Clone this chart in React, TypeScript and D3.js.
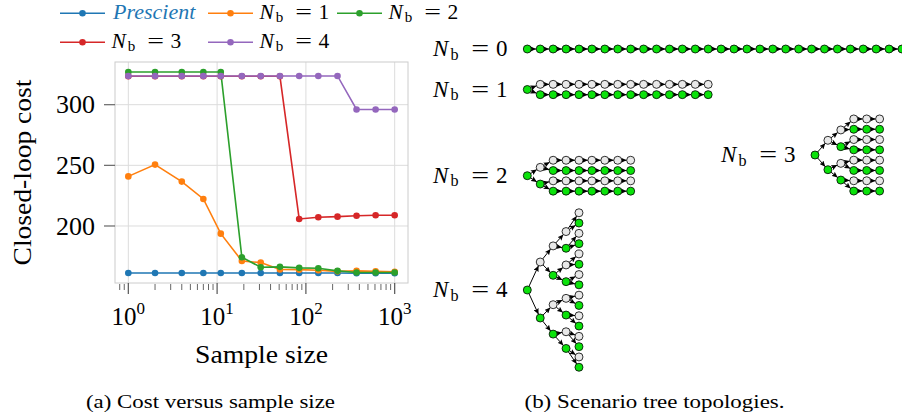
import React from 'react';
import * as d3 from 'd3';

// ---------- data ----------
const sampleSizes = [1, 2, 4, 7, 11, 19, 31, 51, 84, 138, 227, 372, 610, 1000];
const prescientCost = [161.3, 161.3, 161.3, 161.3, 161.3, 161.3, 161.3, 161.3, 161.2, 161.2, 161.2, 161.1, 161.1, 161.1];
const nb1Cost = [240.9, 250.6, 236.6, 222.3, 193.7, 171.2, 169.8, 164.1, 164.0, 163.5, 162.6, 163.0, 162.6, 162.2];
const nb2Cost = [326.9, 326.9, 326.9, 326.9, 326.9, 174.2, 166.0, 166.3, 165.5, 165.2, 163.0, 161.6, 161.6, 161.6];
const nb3Cost = [323.4, 323.4, 323.4, 323.4, 323.4, 323.4, 323.4, 323.4, 205.8, 207.2, 207.7, 208.5, 208.8, 208.8];
const nb4Cost = [323.7, 323.7, 323.7, 323.7, 323.7, 323.7, 323.7, 323.7, 323.7, 323.7, 323.7, 296.1, 296.1, 296.1];

const seriesLabels = ['Prescient', '1', '2', '3', '4'];
const seriesColors = ['#1f77b4', '#ff7f0e', '#2ca02c', '#d62728', '#9467bd'];
const seriesValues = [prescientCost, nb1Cost, nb2Cost, nb3Cost, nb4Cost];

const yTicks = [200, 250, 300];
const xTickExponents = [0, 1, 2, 3];

const treeBranchings = [0, 1, 2, 3, 4];
const treeStages = [31, 15, 9, 6, 5];

// ---------- layout ----------
const SERIF = "'Liberation Serif', 'Times New Roman', serif";
const GREEN = '#0be20b';
const WHITE = '#e8e8e8';
const stageGap = 12.92;
const levelGap = [10.3, 16.7, 29.4, 56]; // from leaves upward
const nodeR = 4;
const treeRoots: [number, number][] = [[527.3, 49], [527.3, 89.5], [527.3, 175.7], [815, 155], [527.3, 290]];
const treeLabelX = [433, 433, 433, 721, 433];

type TNode = { x: number; y: number; green: boolean };

function buildTree(nb: number, stages: number, rx: number, ry: number) {
  const nodes: TNode[] = [];
  const edges: [TNode, TNode][] = [];
  let prev: TNode[] = [{ x: rx, y: ry, green: true }];
  nodes.push(prev[0]);
  for (let s = 1; s < stages; s++) {
    const branching = s <= nb;
    const count = branching ? prev.length * 2 : prev.length;
    const depth = Math.min(s, nb);
    const gap = nb > 0 ? levelGap[nb - depth] : 0;
    const cur: TNode[] = [];
    for (let i = 0; i < count; i++) {
      const parent = branching ? prev[Math.floor(i / 2)] : prev[i];
      const green = branching ? i % 2 === 1 : parent.green;
      const node = { x: rx + s * stageGap, y: ry + (i - (count - 1) / 2) * gap, green };
      cur.push(node);
      nodes.push(node);
      edges.push([parent, node]);
    }
    prev = cur;
  }
  return { nodes, edges };
}

function NbLabel({ x, y, f, digit }: { x: number; y: number; f: number; digit: string }) {
  const sub = 0.14 * f;
  return (
    <text x={x} y={y} fontSize={f} fill="#000" fontFamily={SERIF}>
      <tspan fontStyle="italic">N</tspan>
      <tspan x={x + 0.76 * f} dy={sub} fontSize={0.7 * f}>b</tspan>
      <tspan x={x + 1.66 * f} dy={-sub} textLength={0.78 * f} lengthAdjust="spacingAndGlyphs">=</tspan>
      <tspan x={x + 2.74 * f}>{digit}</tspan>
    </text>
  );
}

export default function App() {
  const x = d3.scaleLog().domain([Math.pow(10, -0.15), Math.pow(10, 3.15)]).range([115, 408]);
  const y = d3.scaleLinear().domain([153, 335.2]).range([283, 62]);
  const [x0, x1] = x.range();
  const [yb, yt] = y.range();

  const line = d3.line<number>().x((_, i) => x(sampleSizes[i])).y((d) => y(d));

  const minorTicks: number[] = [];
  for (let k = -1; k <= 3; k++) {
    for (let m = 2; m <= 9; m++) {
      const v = m * Math.pow(10, k);
      const px = x(v);
      if (px >= x0 && px <= x1) minorTicks.push(v);
    }
  }

  const legendCols = [60, 208, 337];
  const legendRows = [13.3, 42.3];

  const trees = treeBranchings.map((nb, i) => buildTree(nb, treeStages[i], treeRoots[i][0], treeRoots[i][1]));

  return (
    <svg width={902} height={418} style={{ position: 'absolute', left: 0, top: 0, background: '#fff' }} fontFamily={SERIF}>
      <defs>
        <marker id="arr" viewBox="0 0 10 9" refX={10} refY={4.5} markerWidth={6} markerHeight={5.4} markerUnits="userSpaceOnUse" orient="auto">
          <path d="M0,0 L10,4.5 L0,9 L2,4.5 z" fill="#000" />
        </marker>
      </defs>

      {/* grid */}
      {xTickExponents.map((e) => (
        <line key={'gx' + e} x1={x(Math.pow(10, e))} x2={x(Math.pow(10, e))} y1={yt} y2={yb} stroke="#dcdcdc" strokeWidth={1} />
      ))}
      {yTicks.map((t) => (
        <line key={'gy' + t} x1={x0} x2={x1} y1={y(t)} y2={y(t)} stroke="#dcdcdc" strokeWidth={1} />
      ))}
      <rect x={x0} y={yt} width={x1 - x0} height={yb - yt} fill="none" stroke="#cccccc" strokeWidth={1} />

      {/* ticks */}
      {xTickExponents.map((e) => (
        <g key={'tx' + e}>
          <line x1={x(Math.pow(10, e))} x2={x(Math.pow(10, e))} y1={yb} y2={yb + 11} stroke="#555" strokeWidth={1.2} />
          <text x={x(Math.pow(10, e))} y={325} textAnchor="middle" fontSize={25}>
            10<tspan dy={-11} fontSize={17}>{e}</tspan>
          </text>
        </g>
      ))}
      {minorTicks.map((v, i) => (
        <line key={'mx' + i} x1={x(v)} x2={x(v)} y1={yb + 1} y2={yb + 7} stroke="#555" strokeWidth={0.9} />
      ))}
      {yTicks.map((t) => (
        <g key={'ty' + t}>
          <line x1={x0 - 11} x2={x0} y1={y(t)} y2={y(t)} stroke="#666" strokeWidth={1.2} />
          <text x={95} y={y(t) + 8.6} textAnchor="end" fontSize={26}>{t}</text>
        </g>
      ))}

      {/* axis labels */}
      <text x={(x0 + x1) / 2} y={363} textAnchor="middle" fontSize={25} textLength={133} lengthAdjust="spacingAndGlyphs">Sample size</text>
      <text transform={`translate(31,${(yt + yb) / 2}) rotate(-90)`} textAnchor="middle" fontSize={25} textLength={186} lengthAdjust="spacingAndGlyphs">Closed-loop cost</text>

      {/* series */}
      {seriesValues.map((vals, si) => (
        <g key={'s' + si}>
          <path d={line(vals) || ''} fill="none" stroke={seriesColors[si]} strokeWidth={1.6} />
          {vals.map((v, i) => (
            <circle key={i} cx={x(sampleSizes[i])} cy={y(v)} r={3.3} fill={seriesColors[si]} />
          ))}
        </g>
      ))}

      {/* legend */}
      {seriesLabels.map((lab, i) => {
        const lx = legendCols[i % 3];
        const ly = legendRows[Math.floor(i / 3)];
        return (
          <g key={'lg' + i}>
            <line x1={lx} x2={lx + 45} y1={ly} y2={ly} stroke={seriesColors[i]} strokeWidth={1.6} />
            <circle cx={lx + 22.5} cy={ly} r={3.3} fill={seriesColors[i]} />
            {i === 0 ? (
              <text x={lx + 53} y={ly + 5.3} fontSize={22} fontStyle="italic" fill={seriesColors[0]}>{lab}</text>
            ) : (
              <NbLabel x={lx + 51.5} y={ly + 5.3} f={21.5} digit={lab} />
            )}
          </g>
        );
      })}

      {/* trees */}
      {trees.map((t, ti) => (
        <g key={'tree' + ti}>
          {t.edges.map(([p, c], ei) => {
            const dx = c.x - p.x;
            const dy = c.y - p.y;
            const len = Math.sqrt(dx * dx + dy * dy);
            const ux = dx / len;
            const uy = dy / len;
            return (
              <line key={ei} x1={p.x + ux * nodeR} y1={p.y + uy * nodeR} x2={c.x - ux * nodeR} y2={c.y - uy * nodeR} stroke="#000" strokeWidth={1} markerEnd="url(#arr)" />
            );
          })}
          {t.nodes.map((n, ni) => (
            <circle key={ni} cx={n.x} cy={n.y} r={nodeR} fill={n.green ? GREEN : WHITE} stroke="#000" strokeWidth={0.8} />
          ))}
          <NbLabel x={treeLabelX[ti]} y={treeRoots[ti][1] + 7.4} f={23} digit={String(treeBranchings[ti])} />
        </g>
      ))}

      {/* captions */}
      <text x={210.5} y={408} textAnchor="middle" fontSize={18} textLength={249} lengthAdjust="spacingAndGlyphs">(a) Cost versus sample size</text>
      <text x={654.5} y={408} textAnchor="middle" fontSize={18} textLength={260} lengthAdjust="spacingAndGlyphs">(b) Scenario tree topologies.</text>
    </svg>
  );
}
